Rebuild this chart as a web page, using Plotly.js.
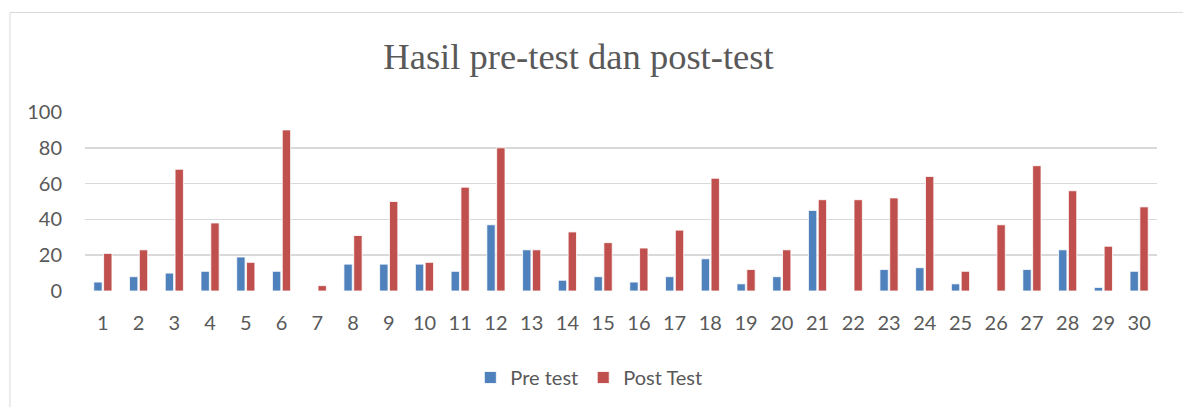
<!DOCTYPE html>
<html>
<head>
<meta charset="utf-8">
<script src="https://cdn.plot.ly/plotly-3.0.1.min.js"></script>
<style>
html,body{margin:0;padding:0;background:#fff;}
#chart{width:1183px;height:407px;}
</style>
</head>
<body>
<div id="chart"></div>
<script>
const categories = ["1","2","3","4","5","6","7","8","9","10","11","12","13","14","15","16","17","18","19","20","21","22","23","24","25","26","27","28","29","30"];
const preTest  = [5, 8, 10, 11, 19, 11, 0, 15, 15, 15, 11, 37, 23, 6, 8, 5, 8, 18, 4, 8, 45, 0, 12, 13, 4, 0, 12, 23, 2, 11];
const postTest = [21, 23, 68, 38, 16, 90, 3, 31, 50, 16, 58, 80, 23, 33, 27, 24, 34, 63, 12, 23, 51, 51, 52, 64, 11, 37, 70, 56, 25, 47];
const seriesNames = ["Pre test", "Post Test"];
const yTicks = [0, 20, 40, 60, 80, 100];

const tickFont = {family: "Lato, 'Liberation Sans', sans-serif", size: 20, color: "#595959"};

const traces = [
  {type: "bar", name: seriesNames[0], x: categories, y: preTest,
   marker: {color: "#4F81BD", line: {color: "#ffffff", width: 0.8}}},
  {type: "bar", name: seriesNames[1], x: categories, y: postTest,
   marker: {color: "#C0504D", line: {color: "#ffffff", width: 0.8}}}
];

const layout = {
  width: 1183, height: 407,
  margin: {l: 85, r: 26, t: 112, b: 115},
  paper_bgcolor: "#ffffff", plot_bgcolor: "#ffffff",
  barmode: "group", bargap: 0.45, bargroupgap: 0.15,
  title: {text: "Hasil pre-test dan post-test",
          font: {family: "'Liberation Serif', 'DejaVu Serif', serif", size: 36.5, color: "#595959"},
          x: 0.489, xref: "container", xanchor: "center",
          y: 0.862, yref: "container", yanchor: "middle"},
  xaxis: {type: "category", tickfont: tickFont, showgrid: false, showline: false,
          zeroline: false, ticks: "", ticklabelstandoff: 18},
  yaxis: {range: [0, 100], tickvals: yTicks, tickfont: tickFont, showgrid: true,
          gridcolor: "#d9d9d9", gridwidth: 1.5, zeroline: false, showline: false,
          ticks: "", ticklabelstandoff: 22, fixedrange: true},
  showlegend: true,
  legend: {orientation: "h", x: 0.47, xanchor: "center", y: -0.475, yanchor: "middle",
           font: tickFont, itemwidth: 30, traceorder: "normal"},
  shapes: [{type: "rect", xref: "paper", yref: "paper",
            x0: -0.0700, x1: 1.5, y0: -1.2, y1: 1.556,
            line: {color: "#d9d9d9", width: 1}, fillcolor: "rgba(0,0,0,0)", layer: "below"}]
};

Plotly.newPlot("chart", traces, layout, {displayModeBar: false, staticPlot: true});
</script>
</body>
</html>
